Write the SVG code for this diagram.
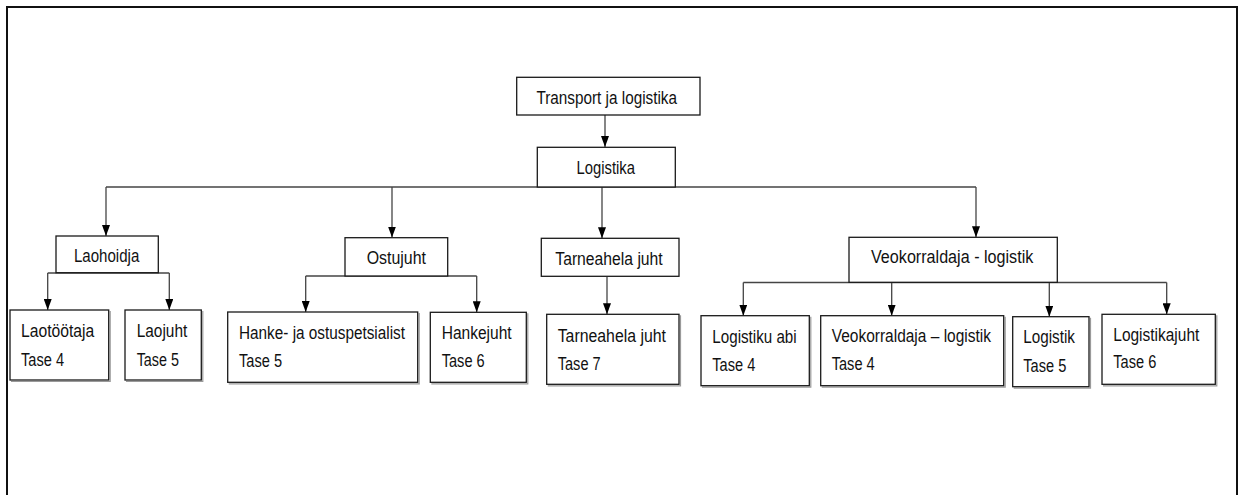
<svg xmlns="http://www.w3.org/2000/svg" width="1242" height="495" viewBox="0 0 1242 495">
<style>
.box{fill:#fff;stroke:#1a1a1a;stroke-width:1.3}
.sh{fill:none;stroke:#9a9a9a;stroke-width:1.2}
.t{font-family:"Liberation Sans",Arial,sans-serif;font-size:17.5px;fill:#111}
.c{fill:none;stroke:#444;stroke-width:1.3}
.a{marker-end:url(#ah)}
</style>
<defs>
<marker id="ah" viewBox="0 0 11 8" refX="11" refY="4" markerWidth="11" markerHeight="8" markerUnits="userSpaceOnUse" orient="auto">
<path d="M0,0 L11,4 L0,8 z" fill="#000"/>
</marker>
</defs>
<rect width="1242" height="495" fill="#fff"/>
<path d="M7,495 V7 H1237 V495" fill="none" stroke="#111" stroke-width="2"/>

<g id="connectors">
<path class="c a" d="M605,115 V147"/>
<path class="c" d="M106,187 H976"/>
<path class="c a" d="M106,187 V236"/>
<path class="c a" d="M392,187 V237.5"/>
<path class="c a" d="M602,187 V238.3"/>
<path class="c a" d="M976,187 V237.3"/>
<path class="c" d="M47.7,273 H169.3"/>
<path class="c a" d="M47.7,273 V310"/>
<path class="c a" d="M169.3,273 V310"/>
<path class="c" d="M305.7,276 H476.7"/>
<path class="c a" d="M305.7,276 V312"/>
<path class="c a" d="M476.7,276 V312.3"/>
<path class="c a" d="M607,277 V314.3"/>
<path class="c" d="M743.3,282.5 H1166.7"/>
<path class="c a" d="M743.3,282.5 V315.7"/>
<path class="c a" d="M891.7,282.5 V315.7"/>
<path class="c a" d="M1049.3,282.5 V316.7"/>
<path class="c a" d="M1166.7,282.5 V314.3"/>
</g>

<g id="transport">
<rect class="box" x="516.7" y="77.3" width="183.3" height="37.7"/>
<text class="t" x="536.5" y="104.3" textLength="140.5" lengthAdjust="spacingAndGlyphs">Transport ja logistika</text>
</g>
<g id="logistika">
<rect class="box" x="537.3" y="147.3" width="138" height="39.7"/>
<text class="t" x="576.5" y="174.3" textLength="58.5" lengthAdjust="spacingAndGlyphs">Logistika</text>
</g>
<g id="laohoidja">
<rect class="box" x="56" y="236" width="102.3" height="36.7"/>
<text class="t" x="74" y="261.7" textLength="65.3" lengthAdjust="spacingAndGlyphs">Laohoidja</text>
</g>
<g id="ostujuht">
<rect class="box" x="345" y="237.7" width="102.7" height="38.3"/>
<text class="t" x="366.7" y="264.3" textLength="59.3" lengthAdjust="spacingAndGlyphs">Ostujuht</text>
</g>
<g id="tarneahela">
<rect class="box" x="541.3" y="238.3" width="137.7" height="38"/>
<text class="t" x="555.3" y="265" textLength="107.4" lengthAdjust="spacingAndGlyphs">Tarneahela juht</text>
</g>
<g id="veokorraldaja">
<rect class="box" x="849" y="237.3" width="208.3" height="45"/>
<text class="t" x="871" y="263.3" textLength="162.3" lengthAdjust="spacingAndGlyphs">Veokorraldaja -  logistik</text>
</g>

<g id="laotootaja">
<path class="sh" d="M11,381.5 H110.2 V311"/>
<rect class="box" x="10" y="310" width="98.7" height="70"/>
<text class="t" x="21" y="337.3" textLength="73.3" lengthAdjust="spacingAndGlyphs">Laotöötaja</text>
<text class="t" x="21" y="365.7" textLength="43" lengthAdjust="spacingAndGlyphs">Tase 4</text>
</g>
<g id="laojuht">
<path class="sh" d="M126,381.5 H202.8 V311"/>
<rect class="box" x="125" y="310" width="76.3" height="70"/>
<text class="t" x="136.7" y="337.3" textLength="50.6" lengthAdjust="spacingAndGlyphs">Laojuht</text>
<text class="t" x="136.7" y="365.7" textLength="42.3" lengthAdjust="spacingAndGlyphs">Tase 5</text>
</g>
<g id="hanke">
<path class="sh" d="M228.7,383.8 H419.2 V313"/>
<rect class="box" x="227.7" y="312" width="190" height="70.3"/>
<text class="t" x="239" y="339.3" textLength="166" lengthAdjust="spacingAndGlyphs">Hanke- ja ostuspetsialist</text>
<text class="t" x="239" y="367.3" textLength="43" lengthAdjust="spacingAndGlyphs">Tase 5</text>
</g>
<g id="hankejuht">
<path class="sh" d="M431.3,383.8 H527.8 V313.3"/>
<rect class="box" x="430.3" y="312.3" width="96" height="70"/>
<text class="t" x="441.7" y="339" textLength="70" lengthAdjust="spacingAndGlyphs">Hankejuht</text>
<text class="t" x="441.7" y="367" textLength="43" lengthAdjust="spacingAndGlyphs">Tase 6</text>
</g>
<g id="tarneahela7">
<path class="sh" d="M547.7,385.8 H680.5 V315.3"/>
<rect class="box" x="546.7" y="314.3" width="132.3" height="70"/>
<text class="t" x="557.7" y="341.7" textLength="108.3" lengthAdjust="spacingAndGlyphs">Tarneahela juht</text>
<text class="t" x="557.7" y="370" textLength="43" lengthAdjust="spacingAndGlyphs">Tase 7</text>
</g>
<g id="logistikuabi">
<path class="sh" d="M702,387.2 H810.8 V316.7"/>
<rect class="box" x="701" y="315.7" width="108.3" height="70"/>
<text class="t" x="712.3" y="342.7" textLength="84.4" lengthAdjust="spacingAndGlyphs">Logistiku abi</text>
<text class="t" x="712.3" y="371" textLength="43" lengthAdjust="spacingAndGlyphs">Tase 4</text>
</g>
<g id="veologistik">
<path class="sh" d="M821.7,387.2 H1005.2 V316.7"/>
<rect class="box" x="820.7" y="315.7" width="183" height="70"/>
<text class="t" x="831.7" y="341.7" textLength="159.3" lengthAdjust="spacingAndGlyphs">Veokorraldaja – logistik</text>
<text class="t" x="831.7" y="370" textLength="43" lengthAdjust="spacingAndGlyphs">Tase 4</text>
</g>
<g id="logistik">
<path class="sh" d="M1013.7,388.2 H1090.5 V317.7"/>
<rect class="box" x="1012.7" y="316.7" width="76.3" height="70"/>
<text class="t" x="1023.3" y="343.3" textLength="51.7" lengthAdjust="spacingAndGlyphs">Logistik</text>
<text class="t" x="1023.3" y="371.7" textLength="43" lengthAdjust="spacingAndGlyphs">Tase 5</text>
</g>
<g id="logistikajuht">
<path class="sh" d="M1103,385.8 H1216.8 V315.3"/>
<rect class="box" x="1102" y="314.3" width="113.3" height="70"/>
<text class="t" x="1113.3" y="340.7" textLength="86" lengthAdjust="spacingAndGlyphs">Logistikajuht</text>
<text class="t" x="1113.3" y="368.3" textLength="43" lengthAdjust="spacingAndGlyphs">Tase 6</text>
</g>
</svg>
